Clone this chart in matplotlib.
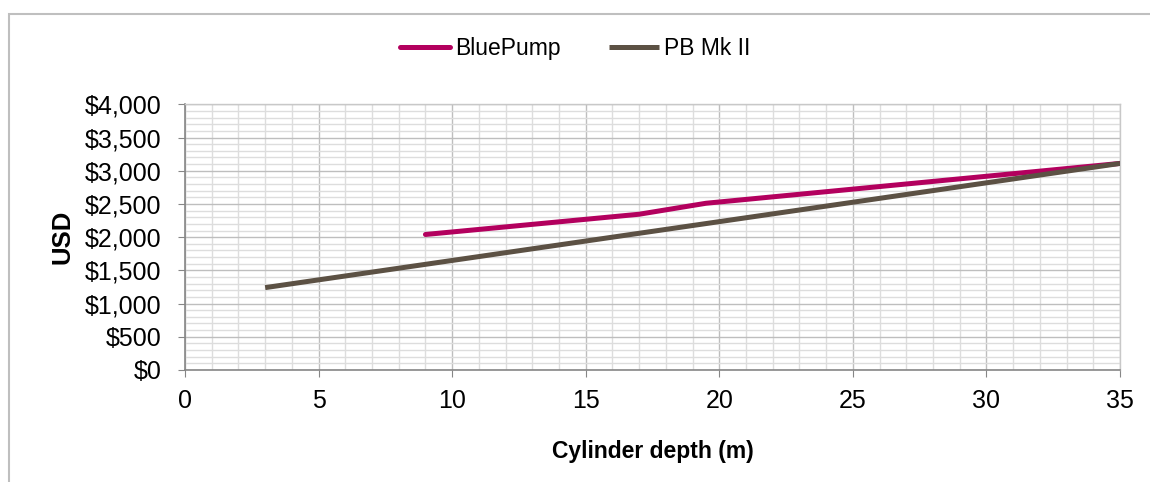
import matplotlib.pyplot as plt
from matplotlib.patches import Rectangle
from matplotlib.ticker import MultipleLocator, FuncFormatter

plt.rcParams['font.family'] = ['Liberation Sans', 'DejaVu Sans']

# data
bluepump_depth = [9, 17, 19.5, 35]
bluepump_cost = [2040, 2345, 2510, 3110]
pbmk2_depth = [3, 35]
pbmk2_cost = [1240, 3110]

series_names = ['BluePump', 'PB Mk II']
colors = ['#B3005E', '#5C5144']

fig = plt.figure(figsize=(11.5, 4.82), dpi=100)
ax = fig.add_axes([0.1609, 0.2324, 0.8130, 0.5512])

ax.plot(bluepump_depth, bluepump_cost, color=colors[0], lw=3.6,
        solid_capstyle='round', label=series_names[0], zorder=3)
ax.plot(pbmk2_depth, pbmk2_cost, color=colors[1], lw=3.6,
        solid_capstyle='butt', label=series_names[1], zorder=3)

ax.set_xlim(0, 35)
ax.set_ylim(0, 4000)
ax.xaxis.set_major_locator(MultipleLocator(5))
ax.xaxis.set_minor_locator(MultipleLocator(1))
ax.yaxis.set_major_locator(MultipleLocator(500))
ax.yaxis.set_minor_locator(MultipleLocator(100))
ax.yaxis.set_major_formatter(FuncFormatter(lambda v, p: f'${v:,.0f}'))

ax.grid(which='major', color='#BEBEBE', lw=1.0, zorder=1)
ax.grid(which='minor', color='#DDDDDD', lw=1.0, zorder=0)

for s in ['left', 'bottom']:
    ax.spines[s].set_color('#868686')
    ax.spines[s].set_linewidth(1.2)
for s in ['top', 'right']:
    ax.spines[s].set_color('#C8C8C8')
    ax.spines[s].set_linewidth(1.0)

ax.tick_params(which='major', direction='out', length=5, color='#868686',
               labelsize=18)
ax.tick_params(axis='y', pad=12)
ax.tick_params(axis='x', pad=9)
ax.tick_params(which='minor', length=0)

ax.set_xlabel('Cylinder depth (m)', fontsize=16.5, fontweight='bold', labelpad=19)
ax.set_ylabel('USD', fontsize=18.5, fontweight='bold', labelpad=7)

fig.legend(loc='center', bbox_to_anchor=(0.5, 0.9), ncol=2, frameon=False,
           fontsize=16.5, handlelength=2.2, handletextpad=0.2, columnspacing=2.1)

# outer chart border
fig.patches.append(Rectangle((9 / 1150, -0.05), 1.1, 1 - 14 / 482 + 0.05,
                             transform=fig.transFigure, fill=False,
                             edgecolor='#BFBFBF', lw=1.5))

fig.savefig('out.png', dpi=100)
